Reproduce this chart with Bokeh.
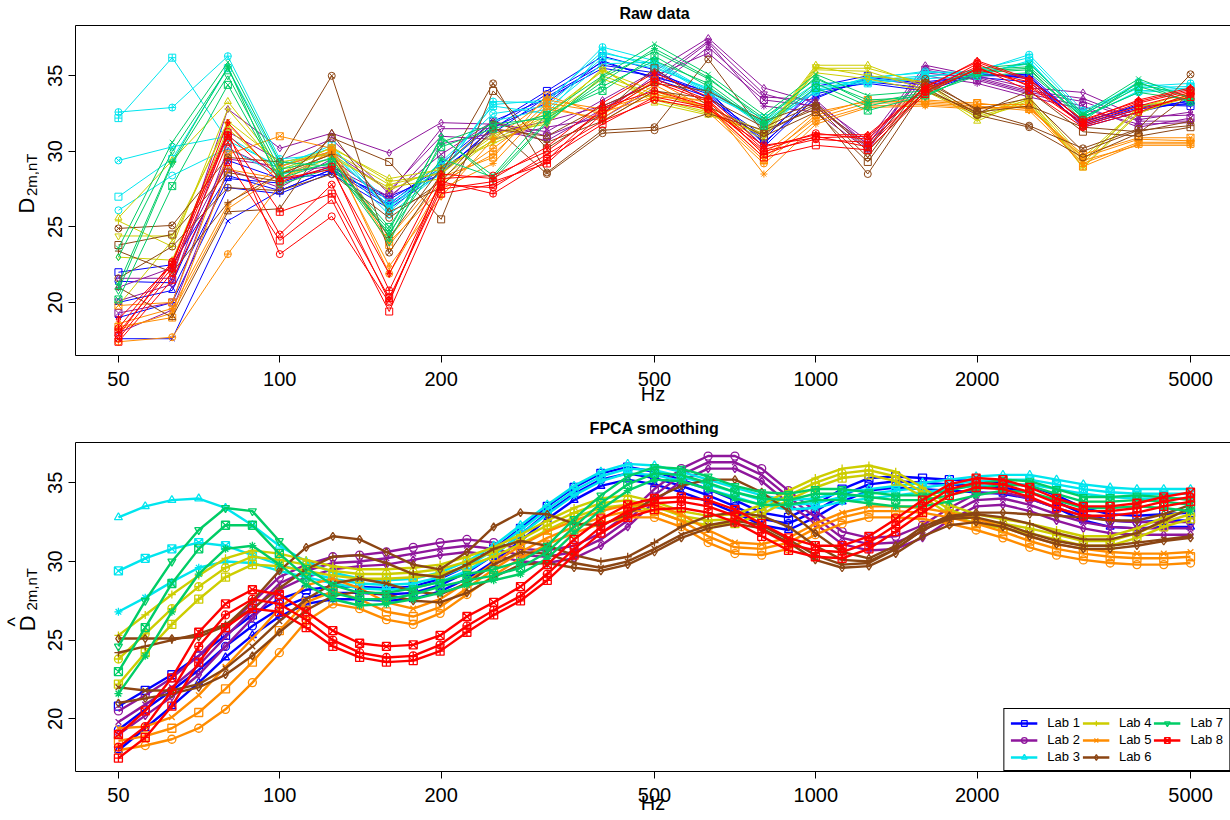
import math
from bokeh.plotting import figure
from bokeh.models import (Range1d, FixedTicker, NumeralTickFormatter, Label,
                          Legend, LegendItem, LogAxis)
from bokeh.layouts import column, row
from bokeh.embed import file_html
from bokeh.resources import INLINE

FONT = "Liberation Sans"

# ---------------------------------------------------------------- data
freqs = [50, 63, 80, 100, 125, 160, 200, 250, 315, 400, 500, 630, 800,
         1000, 1250, 1600, 2000, 2500, 3150, 4000, 5000]

fpca_freqs = [50, 56.1, 62.9, 70.6, 79.2, 88.9, 99.8, 112, 125.6, 140.9,
              158.1, 177.4, 199.1, 223.4, 250.6, 281.2, 315.5, 354, 397.2,
              445.7, 500, 561.1, 629.6, 706.4, 792.5, 889.3, 997.8, 1119.5,
              1256.1, 1409.4, 1581.4, 1774.3, 1990.8, 2233.7, 2506.3, 2812.2,
              3155.3, 3540.3, 3972.2, 4456.9, 5000]

lab_names = ["Lab 1", "Lab 2", "Lab 3", "Lab 4", "Lab 5", "Lab 6", "Lab 7", "Lab 8"]
lab_colors = ["#0000FF", "#8E169C", "#00E5EE", "#CDCD00", "#FF8C00",
              "#8B4513", "#00CD66", "#FF0000"]
legend_markers = ["square", "circle", "triangle", "cross", "x", "diamond",
                  "inverted_triangle", "square_x"]

# raw D2m,nT curves, one list per measurement (values at `freqs`)
raw_lab1 = [
    [22.0, 22.5, 28.4, 27.4, 28.8, 26.8, 28.9, 31.8, 34.0, 36.3, 35.4, 33.5, 30.8, 34.3, 35.0, 34.6, 35.0, 35.1, 31.9, 33.1, 33.0],
    [21.4, 21.3, 29.4, 28.2, 28.5, 26.2, 28.6, 31.5, 33.8, 35.9, 34.9, 34.0, 30.5, 33.8, 34.6, 34.2, 35.2, 34.8, 31.7, 32.8, 33.2],
    [20.0, 20.8, 28.2, 27.9, 29.0, 26.5, 29.2, 32.0, 33.5, 35.5, 35.0, 33.8, 30.3, 33.6, 34.8, 34.4, 34.9, 34.6, 31.8, 32.9, 33.3],
    [19.0, 20.0, 27.6, 27.2, 28.6, 27.0, 28.5, 31.6, 33.2, 36.0, 34.8, 33.6, 31.0, 34.0, 34.5, 34.0, 35.1, 34.9, 32.0, 33.0, 33.1],
    [17.6, 17.6, 25.4, 27.4, 28.8, 26.4, 28.8, 31.2, 33.6, 35.7, 35.2, 33.9, 30.6, 33.5, 34.9, 34.5, 35.0, 35.0, 31.6, 32.6, 33.4],
]
raw_lab2 = [
    [21.6, 21.6, 32.8, 30.2, 31.2, 29.9, 31.9, 31.8, 31.3, 33.4, 35.3, 37.5, 34.2, 33.2, 30.7, 35.7, 35.0, 34.2, 33.9, 32.3, 32.4],
    [20.1, 21.2, 31.3, 29.4, 30.8, 27.2, 31.5, 31.5, 30.7, 32.8, 34.8, 37.3, 33.8, 32.9, 30.5, 35.2, 34.8, 33.9, 33.3, 32.0, 32.0],
    [19.3, 20.0, 30.2, 28.6, 29.0, 27.0, 29.8, 32.0, 31.0, 32.5, 35.0, 36.5, 33.4, 33.0, 30.2, 35.4, 34.7, 33.8, 33.0, 31.6, 32.2],
    [18.0, 19.5, 28.8, 27.6, 29.5, 26.8, 30.5, 31.2, 32.0, 33.0, 34.5, 37.2, 33.0, 32.6, 30.1, 35.0, 34.5, 33.6, 32.8, 31.8, 31.9],
    [21.0, 22.3, 29.5, 29.0, 30.0, 27.4, 31.0, 30.8, 31.6, 32.2, 34.2, 36.9, 33.6, 33.4, 30.4, 35.5, 34.9, 34.0, 33.5, 32.1, 32.6],
]
raw_lab3 = [
    [32.6, 32.9, 36.3, 29.5, 29.8, 26.4, 28.5, 33.3, 33.2, 36.9, 36.0, 34.0, 31.8, 33.9, 34.9, 35.2, 35.3, 36.4, 32.7, 34.3, 34.5],
    [32.2, 36.2, 30.7, 29.0, 30.4, 26.0, 29.0, 33.0, 32.5, 36.5, 35.8, 33.8, 32.0, 34.3, 34.5, 34.8, 35.0, 36.0, 32.2, 34.0, 34.2],
    [29.4, 30.3, 31.0, 28.8, 30.0, 26.2, 29.3, 32.5, 33.0, 36.2, 35.5, 34.2, 31.6, 34.0, 34.7, 35.0, 35.2, 35.8, 32.4, 34.6, 34.0],
    [27.0, 29.5, 35.5, 29.2, 30.2, 26.6, 28.8, 32.0, 32.8, 35.8, 35.9, 33.9, 32.2, 34.5, 34.6, 34.9, 35.4, 36.2, 32.5, 34.2, 34.3],
    [26.1, 28.4, 30.2, 28.4, 29.6, 25.8, 28.6, 33.1, 33.4, 36.6, 35.6, 34.1, 31.9, 34.1, 34.8, 35.3, 35.1, 35.9, 32.3, 33.9, 34.1],
]
raw_lab4 = [
    [25.6, 29.4, 33.3, 29.0, 30.2, 28.2, 28.8, 30.7, 32.0, 35.5, 33.2, 32.4, 31.2, 35.7, 35.7, 34.3, 32.0, 33.5, 28.9, 32.5, 33.8],
    [25.4, 23.7, 32.8, 28.8, 30.0, 27.8, 28.6, 31.0, 32.5, 35.3, 34.0, 32.7, 31.0, 35.5, 35.5, 34.5, 32.2, 33.2, 29.2, 33.0, 33.5],
    [19.8, 24.1, 32.0, 29.3, 29.8, 27.4, 29.0, 30.5, 32.2, 34.8, 33.5, 32.6, 30.8, 35.4, 35.3, 34.1, 32.5, 33.4, 29.4, 32.8, 33.7],
    [23.0, 22.8, 31.5, 28.5, 30.3, 28.0, 28.5, 31.2, 31.8, 35.0, 33.8, 32.9, 31.3, 35.2, 34.8, 34.0, 32.3, 33.3, 29.0, 32.6, 33.6],
    [24.4, 24.4, 31.8, 28.2, 29.6, 27.6, 28.2, 30.8, 32.3, 35.4, 33.4, 32.5, 31.1, 35.6, 35.0, 34.6, 32.4, 33.6, 29.6, 32.9, 33.9],
]
raw_lab5 = [
    [19.8, 20.0, 29.8, 31.0, 30.2, 24.3, 28.3, 29.6, 33.7, 32.4, 34.7, 32.8, 29.4, 32.4, 33.4, 33.4, 33.2, 32.8, 29.8, 30.9, 30.9],
    [18.6, 19.6, 26.5, 29.0, 30.0, 24.0, 27.5, 29.2, 33.0, 32.0, 34.0, 33.2, 28.5, 31.8, 32.9, 33.0, 32.8, 33.0, 29.4, 30.4, 30.4],
    [18.2, 19.3, 26.2, 28.5, 29.8, 22.4, 27.0, 30.8, 33.4, 32.8, 33.8, 33.0, 29.6, 32.2, 33.2, 33.2, 33.0, 32.7, 29.2, 30.6, 30.6],
    [17.4, 17.7, 23.2, 27.8, 30.1, 21.9, 27.8, 30.2, 32.8, 32.2, 34.4, 32.6, 29.2, 32.0, 33.0, 33.1, 32.9, 32.9, 29.6, 30.8, 30.7],
    [18.4, 19.0, 28.8, 28.2, 29.9, 23.8, 28.0, 29.8, 33.2, 32.6, 33.6, 33.4, 29.8, 32.6, 33.3, 33.3, 33.1, 33.1, 29.0, 30.5, 30.5],
]
raw_lab6 = [
    [24.9, 25.1, 29.6, 29.3, 35.0, 23.3, 28.5, 34.5, 28.6, 31.4, 31.6, 36.1, 31.2, 33.0, 29.6, 34.8, 32.7, 31.7, 30.2, 31.5, 35.1],
    [23.8, 24.5, 28.6, 28.0, 30.9, 29.3, 25.5, 34.0, 30.2, 32.5, 35.5, 33.0, 31.0, 32.6, 29.3, 34.5, 32.5, 34.0, 31.3, 31.0, 31.6],
    [21.6, 23.7, 27.6, 27.4, 28.5, 25.6, 28.0, 31.7, 28.5, 31.2, 31.4, 32.5, 31.4, 32.8, 28.5, 34.2, 32.4, 31.6, 29.6, 31.2, 33.8],
    [21.0, 19.0, 26.0, 26.2, 31.2, 26.0, 27.6, 31.5, 31.0, 33.0, 34.5, 34.0, 32.0, 33.2, 30.0, 34.0, 32.6, 33.0, 31.6, 31.3, 32.0],
    [23.4, 22.0, 26.6, 28.5, 29.8, 24.3, 28.9, 32.0, 30.6, 32.0, 34.0, 33.5, 31.6, 33.1, 30.3, 34.6, 32.8, 33.5, 30.0, 31.4, 31.7],
]
raw_lab7 = [
    [23.6, 30.6, 35.9, 29.3, 29.0, 24.8, 30.9, 28.4, 32.5, 35.0, 37.1, 35.1, 32.4, 35.1, 33.7, 34.0, 35.5, 35.8, 32.5, 34.8, 33.5],
    [23.0, 30.0, 35.5, 28.8, 29.5, 24.4, 31.0, 28.1, 31.9, 34.9, 36.6, 34.8, 32.2, 34.8, 33.4, 33.6, 35.3, 35.5, 32.0, 34.6, 33.2],
    [20.8, 29.2, 35.0, 28.5, 29.2, 24.0, 30.6, 31.8, 32.2, 34.3, 36.0, 34.5, 31.8, 34.5, 33.0, 33.8, 35.0, 35.2, 32.3, 33.9, 33.4],
    [20.2, 27.7, 34.4, 28.2, 29.3, 25.0, 30.3, 31.5, 32.4, 34.0, 36.3, 34.3, 31.7, 34.2, 32.7, 33.7, 35.2, 35.4, 32.2, 34.3, 33.3],
    [21.2, 29.3, 35.6, 27.8, 28.9, 24.6, 29.5, 28.3, 32.0, 34.6, 36.8, 34.9, 32.0, 34.9, 33.2, 33.9, 35.4, 35.6, 32.4, 34.5, 33.6],
]
raw_lab8 = [
    [18.9, 22.5, 31.9, 28.2, 28.8, 21.9, 28.5, 28.2, 30.3, 33.2, 35.2, 33.6, 30.3, 31.1, 31.1, 34.2, 36.0, 34.8, 32.0, 33.4, 34.2],
    [18.3, 22.7, 31.1, 28.0, 29.0, 20.8, 28.0, 27.2, 29.4, 32.9, 34.0, 33.0, 30.0, 30.8, 30.6, 33.9, 35.8, 34.3, 31.8, 33.0, 33.9],
    [18.0, 22.3, 31.0, 26.0, 27.2, 20.3, 27.5, 28.0, 29.2, 32.5, 34.6, 33.3, 29.8, 31.0, 30.3, 34.0, 35.4, 34.6, 31.7, 32.8, 33.6],
    [17.6, 22.0, 30.6, 24.5, 27.8, 20.1, 27.8, 27.6, 29.8, 32.0, 33.4, 32.8, 30.4, 30.9, 31.0, 34.1, 35.6, 34.0, 31.6, 32.6, 33.8],
    [17.4, 21.5, 29.3, 24.1, 26.8, 19.4, 27.2, 27.8, 29.5, 31.8, 33.6, 32.9, 29.6, 30.4, 30.1, 33.8, 35.5, 34.4, 31.9, 33.2, 34.0],
    [17.8, 22.6, 31.3, 23.2, 25.7, 20.0, 28.2, 28.4, 30.0, 32.7, 34.8, 33.4, 30.1, 31.2, 30.8, 34.3, 35.9, 34.7, 32.1, 33.3, 34.1],
]

# FPCA-smoothed curves (values at `fpca_freqs`)
fpca_lab1 = [
    [20.8, 21.8, 22.8, 24.0, 25.3, 26.6, 27.6, 28.2, 28.4, 28.4, 28.3, 28.4, 28.9, 29.7, 30.8, 32.1, 33.5, 34.7, 35.6, 36.0, 35.7, 35.2, 34.6, 33.9, 33.1, 32.8, 33.6, 34.6, 35.3, 35.4, 35.3, 35.2, 35.1, 35.0, 34.8, 34.2, 33.4, 33.0, 32.9, 33.0, 33.1],
    [19.3, 20.6, 21.8, 23.1, 24.6, 25.9, 27.0, 27.7, 28.0, 28.0, 27.9, 28.0, 28.5, 29.3, 30.4, 31.7, 33.1, 34.3, 35.2, 35.6, 35.3, 34.8, 34.2, 33.5, 32.7, 32.4, 33.2, 34.2, 34.9, 35.1, 35.0, 34.9, 34.8, 34.7, 34.4, 33.8, 33.0, 32.6, 32.5, 32.6, 32.6],
    [18.0, 19.4, 20.8, 22.3, 23.9, 25.3, 26.5, 27.3, 27.6, 27.6, 27.5, 27.6, 28.1, 28.9, 30.0, 31.3, 32.7, 33.9, 34.8, 35.2, 34.9, 34.4, 33.8, 33.1, 32.3, 32.0, 32.8, 33.8, 34.5, 34.7, 34.6, 34.5, 34.4, 34.3, 34.0, 33.4, 32.6, 32.2, 32.1, 32.2, 32.2],
]
fpca_lab2 = [
    [20.5, 21.5, 22.6, 24.0, 25.7, 27.4, 29.0, 29.8, 30.3, 30.4, 30.6, 30.9, 31.2, 31.4, 31.2, 30.8, 30.7, 31.0, 31.8, 33.0, 34.6, 35.9, 36.7, 36.7, 35.9, 34.5, 33.2, 31.9, 31.5, 31.6, 32.3, 33.4, 34.3, 34.4, 34.0, 33.4, 32.9, 32.6, 32.5, 32.5, 32.5],
    [19.8, 20.9, 22.0, 23.4, 25.2, 26.9, 28.6, 29.4, 29.9, 30.0, 30.2, 30.5, 30.8, 31.0, 30.8, 30.4, 30.3, 30.6, 31.4, 32.6, 34.2, 35.5, 36.3, 36.3, 35.5, 34.1, 32.8, 31.5, 31.1, 31.2, 31.9, 33.0, 33.9, 34.0, 33.6, 33.0, 32.5, 32.2, 32.1, 32.1, 32.1],
    [19.0, 20.2, 21.4, 22.8, 24.6, 26.4, 28.2, 29.0, 29.5, 29.7, 29.8, 30.1, 30.4, 30.6, 30.4, 30.0, 29.9, 30.2, 31.0, 32.2, 33.8, 35.1, 35.9, 35.9, 35.1, 33.7, 32.4, 31.1, 30.7, 30.8, 31.5, 32.6, 33.5, 33.6, 33.2, 32.6, 32.1, 31.8, 31.7, 31.7, 31.7],
]
fpca_lab3 = [
    [32.8, 33.5, 33.9, 34.0, 33.4, 32.3, 31.0, 30.0, 29.3, 28.9, 28.8, 28.9, 29.3, 30.0, 31.0, 32.3, 33.6, 34.8, 35.7, 36.2, 36.1, 35.7, 35.2, 34.7, 34.2, 33.9, 34.0, 34.4, 34.6, 34.8, 35.0, 35.2, 35.4, 35.5, 35.5, 35.2, 34.9, 34.7, 34.6, 34.6, 34.6],
    [29.4, 30.2, 30.8, 31.2, 31.0, 30.4, 29.8, 29.3, 28.9, 28.6, 28.5, 28.6, 29.0, 29.7, 30.7, 32.0, 33.3, 34.5, 35.4, 35.9, 35.8, 35.4, 34.9, 34.4, 33.9, 33.6, 33.7, 34.1, 34.3, 34.5, 34.7, 34.9, 35.1, 35.2, 35.2, 34.9, 34.6, 34.4, 34.3, 34.3, 34.3],
    [26.8, 27.7, 28.7, 29.6, 30.0, 29.9, 29.4, 29.0, 28.6, 28.3, 28.2, 28.3, 28.7, 29.4, 30.4, 31.7, 33.0, 34.2, 35.1, 35.6, 35.5, 35.1, 34.6, 34.1, 33.6, 33.3, 33.4, 33.8, 34.0, 34.2, 34.4, 34.6, 34.8, 34.9, 34.9, 34.6, 34.3, 34.1, 34.0, 34.0, 34.0],
]
fpca_lab4 = [
    [25.3, 26.6, 27.9, 29.1, 30.2, 30.7, 30.5, 30.1, 29.7, 29.5, 29.5, 29.6, 29.8, 30.3, 30.9, 31.7, 32.6, 33.4, 34.0, 34.2, 33.8, 33.2, 32.9, 33.0, 33.6, 34.5, 35.3, 35.9, 36.1, 35.7, 34.7, 33.6, 33.0, 32.7, 32.4, 32.0, 31.6, 31.6, 32.1, 32.8, 33.3],
    [23.8, 25.4, 27.0, 28.4, 29.6, 30.3, 30.1, 29.8, 29.4, 29.2, 29.2, 29.3, 29.5, 30.0, 30.6, 31.4, 32.3, 33.1, 33.7, 33.9, 33.5, 32.9, 32.6, 32.7, 33.3, 34.2, 35.0, 35.6, 35.8, 35.4, 34.4, 33.3, 32.7, 32.4, 32.1, 31.7, 31.3, 31.3, 31.8, 32.5, 33.0],
    [22.2, 24.2, 26.0, 27.6, 29.0, 29.8, 29.7, 29.4, 29.1, 28.9, 28.9, 29.0, 29.2, 29.7, 30.3, 31.1, 32.0, 32.8, 33.4, 33.6, 33.2, 32.6, 32.3, 32.4, 33.0, 33.9, 34.7, 35.3, 35.5, 35.1, 34.1, 33.0, 32.4, 32.1, 31.8, 31.4, 31.0, 31.0, 31.5, 32.2, 32.7],
]
fpca_lab5 = [
    [19.4, 19.5, 20.1, 21.5, 23.3, 25.1, 27.0, 28.5, 28.9, 28.3, 27.4, 27.0, 27.6, 28.7, 29.9, 31.0, 31.9, 32.6, 33.2, 33.6, 33.6, 33.0, 32.0, 31.2, 31.1, 31.5, 32.4, 33.1, 33.5, 33.5, 33.4, 33.1, 32.7, 32.2, 31.6, 31.1, 30.8, 30.6, 30.5, 30.5, 30.6],
    [18.6, 18.9, 19.4, 20.4, 21.9, 23.6, 25.6, 27.4, 28.1, 27.6, 26.8, 26.5, 27.1, 28.3, 29.5, 30.6, 31.5, 32.2, 32.8, 33.2, 33.2, 32.6, 31.6, 30.9, 30.8, 31.2, 32.1, 32.8, 33.2, 33.2, 33.1, 32.8, 32.4, 31.9, 31.3, 30.8, 30.5, 30.3, 30.2, 30.2, 30.3],
    [18.0, 18.3, 18.7, 19.4, 20.6, 22.3, 24.2, 26.2, 27.3, 27.0, 26.3, 26.0, 26.7, 27.9, 29.1, 30.2, 31.1, 31.8, 32.4, 32.8, 32.8, 32.2, 31.2, 30.5, 30.4, 30.8, 31.7, 32.4, 32.8, 32.8, 32.7, 32.4, 32.0, 31.5, 30.9, 30.4, 30.1, 29.9, 29.8, 29.8, 29.9],
]
fpca_lab6 = [
    [25.1, 25.1, 25.1, 25.2, 25.9, 27.5, 29.4, 30.9, 31.6, 31.4, 30.6, 29.8, 29.5, 30.6, 32.2, 33.1, 33.0, 32.4, 32.3, 33.0, 34.0, 34.8, 35.2, 35.2, 34.4, 33.2, 31.8, 30.6, 30.2, 31.0, 32.2, 32.9, 33.1, 33.1, 33.0, 32.9, 32.8, 32.6, 32.6, 33.0, 33.6],
    [24.2, 24.6, 25.0, 25.4, 26.0, 27.0, 28.3, 29.5, 30.3, 30.4, 29.9, 29.2, 29.0, 29.8, 30.8, 31.3, 31.0, 30.4, 30.0, 30.3, 31.2, 32.2, 32.9, 33.1, 32.9, 32.2, 31.0, 30.1, 30.0, 30.8, 32.0, 32.8, 33.0, 32.8, 32.4, 31.8, 31.4, 31.4, 31.8, 32.6, 33.4],
    [22.0, 21.8, 21.8, 22.2, 23.2, 24.6, 26.2, 27.6, 28.6, 28.9, 28.6, 28.1, 27.9, 28.6, 29.8, 30.6, 30.5, 29.9, 29.6, 30.0, 30.8, 31.7, 32.3, 32.6, 32.3, 31.4, 30.4, 29.8, 29.9, 30.8, 32.0, 32.7, 32.8, 32.4, 31.8, 31.3, 31.0, 31.0, 31.2, 31.4, 31.6],
    [21.0, 21.3, 21.6, 22.0, 22.8, 24.0, 25.5, 26.9, 27.8, 28.1, 27.9, 27.5, 27.4, 28.0, 29.0, 29.8, 29.9, 29.6, 29.4, 29.8, 30.6, 31.5, 32.1, 32.4, 32.1, 31.2, 30.1, 29.6, 29.7, 30.5, 31.6, 32.3, 32.5, 32.2, 31.6, 31.1, 30.8, 30.8, 31.0, 31.3, 31.5],
]
fpca_lab7 = [
    [24.6, 27.5, 30.0, 32.0, 33.4, 33.2, 31.3, 29.6, 28.5, 28.0, 28.0, 28.3, 28.7, 29.2, 29.5, 30.0, 31.0, 32.7, 34.2, 35.4, 36.0, 35.9, 35.4, 34.8, 34.4, 34.3, 34.6, 34.6, 34.4, 34.2, 34.2, 34.5, 34.9, 35.2, 35.1, 34.6, 34.1, 34.1, 34.2, 34.1, 33.9],
    [23.0, 25.8, 28.6, 30.8, 32.3, 32.3, 30.5, 29.0, 28.0, 27.6, 27.6, 27.9, 28.4, 28.8, 29.1, 29.6, 30.6, 32.2, 33.7, 34.9, 35.6, 35.5, 35.0, 34.4, 34.0, 33.9, 34.3, 34.3, 34.1, 33.9, 33.9, 34.2, 34.6, 34.9, 34.8, 34.3, 33.8, 33.8, 33.9, 33.8, 33.6],
    [21.6, 24.0, 26.8, 29.2, 30.8, 31.0, 29.8, 28.5, 27.6, 27.2, 27.3, 27.6, 28.0, 28.5, 28.8, 29.2, 30.2, 31.8, 33.3, 34.5, 35.2, 35.1, 34.6, 34.0, 33.6, 33.6, 33.9, 33.9, 33.7, 33.5, 33.5, 33.8, 34.2, 34.5, 34.4, 33.9, 33.4, 33.4, 33.5, 33.4, 33.2],
]
fpca_lab8 = [
    [19.0, 20.5, 22.6, 25.5, 27.3, 28.2, 27.9, 26.8, 25.6, 24.8, 24.6, 24.7, 25.3, 26.5, 27.4, 28.4, 29.8, 31.4, 32.7, 33.6, 34.0, 34.1, 33.9, 33.3, 32.4, 31.5, 31.0, 31.0, 31.6, 32.7, 33.9, 34.9, 35.3, 35.2, 34.7, 34.0, 33.5, 33.5, 33.7, 34.1, 34.4],
    [18.2, 19.5, 21.8, 24.6, 26.6, 27.6, 27.3, 26.3, 25.0, 24.2, 23.9, 24.0, 24.7, 25.9, 26.9, 27.8, 29.2, 30.8, 32.2, 33.2, 33.7, 33.8, 33.5, 32.9, 32.0, 31.1, 30.7, 30.6, 31.2, 32.3, 33.5, 34.6, 35.0, 34.9, 34.4, 33.7, 33.2, 33.2, 33.4, 33.8, 34.1],
    [17.5, 18.8, 20.8, 23.6, 25.8, 27.0, 26.8, 25.8, 24.6, 23.9, 23.6, 23.7, 24.3, 25.5, 26.6, 27.5, 28.8, 30.4, 31.8, 32.8, 33.3, 33.4, 33.1, 32.5, 31.6, 30.7, 30.3, 30.2, 30.8, 31.9, 33.1, 34.2, 34.7, 34.6, 34.1, 33.4, 32.9, 32.9, 33.1, 33.5, 33.8],
]

raw_data = [raw_lab1, raw_lab2, raw_lab3, raw_lab4, raw_lab5, raw_lab6, raw_lab7, raw_lab8]
fpca_data = [fpca_lab1, fpca_lab2, fpca_lab3, fpca_lab4, fpca_lab5, fpca_lab6, fpca_lab7, fpca_lab8]

x_ticks = [50, 100, 200, 500, 1000, 2000, 5000]
y_ticks = [20, 25, 30, 35]

curve_markers = ["square", "circle", "triangle", "cross", "x", "diamond",
                 "inverted_triangle", "square_x", "asterisk", "diamond_cross",
                 "circle_cross", "square_cross", "circle_x"]

# ---------------------------------------------------------------- layout sizes
W = 1230
YLAB_W = 39
MAIN_W = W - YLAB_W
LEFT_B = 36              # frame left edge at x = 75
TOP_TITLE_H = 25
TOP_FRAME_H = 330
TOP_BOTTOM_B = 56
BOT_TITLE_H = 31
BOT_FRAME_H = 329
BOT_BOTTOM_B = 49
ROT_SHIFT = 27           # correction for rotated label anchoring


def strip(width, height):
    f = figure(width=width, height=height, x_range=Range1d(0, width),
               y_range=Range1d(0, height), toolbar_location=None,
               output_backend="svg", min_border=0,
               x_axis_location=None, y_axis_location=None)
    f.grid.visible = False
    f.outline_line_color = None
    f.background_fill_color = "white"
    f.border_fill_color = "white"
    return f


def add_text(p, text, x, y, size, angle=0.0, align="left", bold=False):
    p.add_layout(Label(x=x, y=y, text=text, angle=angle, text_align=align,
                       text_baseline="middle", text_font=FONT,
                       text_font_size=size, text_color="black",
                       text_font_style="bold" if bold else "normal"))


def make_fig(frame_h, b_bottom, y0, y1, hz_standoff):
    p = figure(width=MAIN_W, height=frame_h + b_bottom, x_axis_type="log",
               x_range=Range1d(41.58, 5937), y_range=Range1d(y0, y1),
               output_backend="svg", toolbar_location=None,
               min_border_left=LEFT_B, min_border_right=0,
               min_border_top=0, min_border_bottom=b_bottom)
    p.grid.visible = False
    # box drawn by axis lines (left, bottom, top); right edge lies off-page
    p.outline_line_color = None
    p.background_fill_color = "white"
    p.border_fill_color = "white"
    for ax in (p.xaxis[0], p.yaxis[0]):
        ax.axis_line_color = "black"
        ax.axis_line_width = 1
        ax.major_tick_out = 7
        ax.major_tick_in = 0
        ax.minor_tick_out = 0
        ax.minor_tick_in = 0
        ax.major_tick_line_color = "black"
        ax.major_label_text_font = FONT
        ax.major_label_text_font_size = "20px"
        ax.major_label_text_color = "black"
    xa = p.xaxis[0]
    xa.ticker = FixedTicker(ticks=x_ticks)
    xa.formatter = NumeralTickFormatter(format="0")
    xa.major_label_standoff = 9
    xa.axis_label = "Hz"
    xa.axis_label_text_font = FONT
    xa.axis_label_text_font_size = "20px"
    xa.axis_label_text_font_style = "normal"
    xa.axis_label_text_color = "black"
    xa.axis_label_standoff = hz_standoff
    ya = p.yaxis[0]
    ya.ticker = FixedTicker(ticks=y_ticks)
    ya.major_label_orientation = "vertical"
    ya.major_label_standoff = 6
    top_axis = LogAxis(ticker=FixedTicker(ticks=[]), major_tick_out=0,
                       major_tick_in=0, minor_tick_out=0, minor_tick_in=0,
                       major_label_standoff=0, axis_label_standoff=0,
                       axis_line_color="black", axis_line_width=1)
    p.add_layout(top_axis, "above")
    return p


# ---------------------------------------------------------------- top: raw data
title1 = strip(W, TOP_TITLE_H)
add_text(title1, "Raw data", 654, 12.5, "16px", align="center", bold=True)

p1 = make_fig(TOP_FRAME_H, TOP_BOTTOM_B, 16.49, 38.33, -6)
k = 0
for li, curves in enumerate(raw_data):
    col = lab_colors[li]
    for vals in curves:
        m = curve_markers[k % len(curve_markers)]
        k += 1
        p1.line(freqs, vals, line_color=col, line_width=1)
        p1.scatter(freqs, vals, marker=m, size=7, fill_color=None,
                   line_color=col, line_width=1)

H1 = TOP_FRAME_H + TOP_BOTTOM_B
ylab1 = strip(YLAB_W, H1)
# page y of text start -> strip y (from bottom): H1 - (page_y - 25)
add_text(ylab1, "D", 25.7, H1 - (218 - 25) - ROT_SHIFT, "22px", angle=math.pi / 2)
add_text(ylab1, "2m,nT", 30.5, H1 - (197.5 - 25) - ROT_SHIFT, "15px", angle=math.pi / 2)

# ---------------------------------------------------------------- bottom: FPCA
title2 = strip(W, BOT_TITLE_H)
add_text(title2, "FPCA smoothing", 654, 14.5, "16px", align="center", bold=True)

p2 = make_fig(BOT_FRAME_H, BOT_BOTTOM_B, 16.65, 37.56, -13)
k = 0
legend_items = []
for li, curves in enumerate(fpca_data):
    col = lab_colors[li]
    for ci, vals in enumerate(curves):
        if ci == 0:
            m = legend_markers[li]
        else:
            m = curve_markers[k % len(curve_markers)]
        k += 1
        r_line = p2.line(fpca_freqs, vals, line_color=col, line_width=2.4)
        r_mark = p2.scatter(fpca_freqs, vals, marker=m, size=8, fill_color=None,
                            line_color=col, line_width=1.3)
        if ci == 0:
            legend_items.append(LegendItem(label=lab_names[li],
                                           renderers=[r_line, r_mark]))

legend = Legend(items=legend_items, location="bottom_right",
                orientation="vertical", nrows=3, glyph_width=27,
                glyph_height=14, label_height=14, label_standoff=10,
                spacing=2, padding=6, margin=0, label_text_font=FONT,
                label_text_font_size="13px", label_text_color="black",
                border_line_color="black", border_line_width=1,
                border_line_alpha=1,
                background_fill_color="white", background_fill_alpha=1)
p2.add_layout(legend)

H2 = BOT_FRAME_H + BOT_BOTTOM_B
ylab2 = strip(YLAB_W, H2)
# page y -> strip y: H2 - (page_y - 442)
add_text(ylab2, "D", 26.5, H2 - (632 - 442) - ROT_SHIFT, "22px", angle=math.pi / 2)
add_text(ylab2, "2m,nT", 30.5, H2 - (608 - 442) - ROT_SHIFT, "15px", angle=math.pi / 2)
add_text(ylab2, "^", 14, H2 - (621 - 442) - ROT_SHIFT, "20px", angle=math.pi / 2, align="center")

layout = column(title1, row(ylab1, p1, spacing=0), title2,
                row(ylab2, p2, spacing=0), spacing=0)
open("out.html", "w").write(file_html(layout, INLINE))
